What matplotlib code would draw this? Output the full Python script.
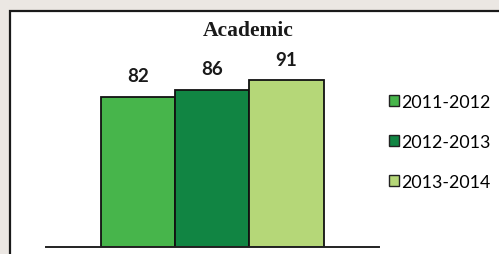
import matplotlib
matplotlib.use("Agg")
import matplotlib.pyplot as plt
from matplotlib.patches import Rectangle, Patch

title = "Academic"
series = ["2011-2012", "2012-2013", "2013-2014"]
values = [82, 86, 91]
colors = ["#47b54b", "#118543", "#b5d778"]

W, H = 499, 255
fig = plt.figure(figsize=(W / 100, H / 100), dpi=100)
fig.patch.set_facecolor("#ebe7e3")

# white panel with dark border
panel = Rectangle((10 / W, -0.1), 1.2, (H - 12) / H + 0.1, transform=fig.transFigure,
                  facecolor="white", edgecolor="#1a1a1a", linewidth=1.6, zorder=-5)
fig.patches.append(panel)

ax_left, ax_right, ax_base, ax_top = 46, 379, 248, 40
ax = fig.add_axes([ax_left / W, (H - ax_base) / H, (ax_right - ax_left) / W, (ax_base - ax_top) / H])
ax.set_zorder(2)
ax.set_facecolor("none")
px_per_unit = 1.83
ax.set_ylim(0, (ax_base - ax_top) / px_per_unit)
bw = 74.3
c0 = 138
ax.set_xlim((ax_left - c0) / bw, (ax_right - c0) / bw)

xs = list(range(len(values)))
bars = ax.bar(xs, values, width=1.0, color=colors, edgecolor="#111111", linewidth=1.3, zorder=2)
for x, v in zip(xs, values):
    ax.text(x, v + 7, str(v), ha="center", va="bottom", fontsize=13.5,
            fontweight="bold", family=["Lato", "DejaVu Sans"], color="#1a1a1a")

for s in ["top", "right", "left"]:
    ax.spines[s].set_visible(False)
ax.spines["bottom"].set_linewidth(1.4)
ax.spines["bottom"].set_color("#222222")
ax.set_xticks([])
ax.set_yticks([])

fig.text(248 / W, 1 - 31 / H, title, ha="center", va="center", fontsize=15.5,
         fontweight="bold", family=["Liberation Serif", "DejaVu Serif"], color="#1a1a1a")

handles = [Patch(facecolor=c, edgecolor="#222222", linewidth=1.0) for c in colors]
leg = fig.legend(handles, series, loc="upper left", bbox_to_anchor=(373 / W, 1 - 79 / H),
                 frameon=False, handlelength=0.55, handleheight=0.55, handletextpad=0.15,
                 labelspacing=1.35, prop={"family": "Lato", "size": 12.8})
leg.set_zorder(3)

fig.savefig("out.png", dpi=100, facecolor=fig.get_facecolor())
